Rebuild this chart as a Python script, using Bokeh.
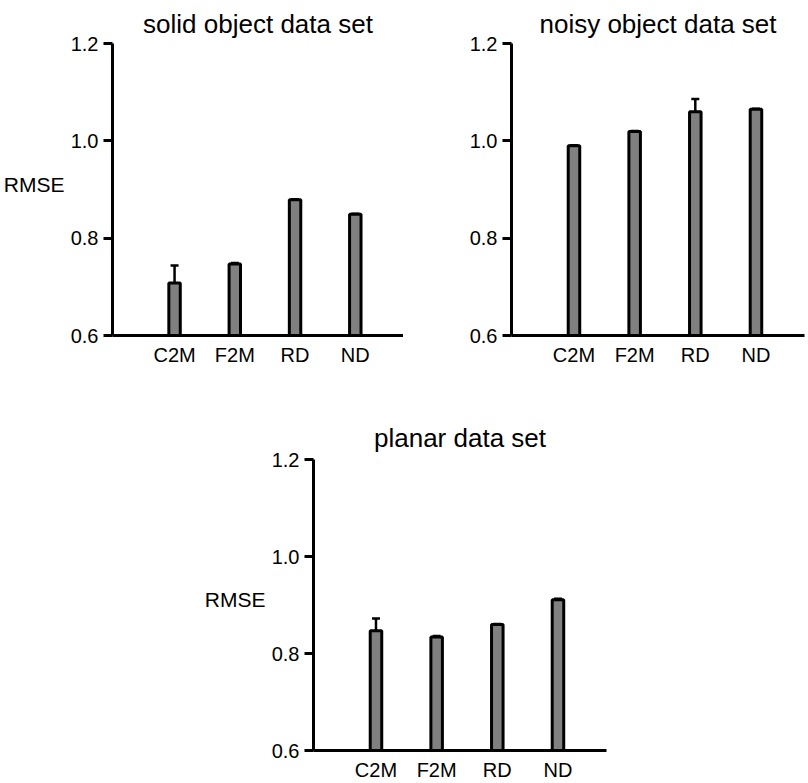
from bokeh.plotting import figure
from bokeh.layouts import column, row
from bokeh.models import (ColumnDataSource, Whisker, TeeHead, FixedTicker, LinearAxis,
                          CustomJSTickFormatter)
from bokeh.embed import file_html
from bokeh.resources import INLINE

categories = ["C2M", "F2M", "RD", "ND"]
y_ticks = [0.6, 0.8, 1.0, 1.2]

solid_values = [0.708, 0.747, 0.879, 0.849]
solid_errors = [0.036, 0.002, 0.001, 0.001]

noisy_values = [0.990, 1.019, 1.060, 1.065]
noisy_errors = [0.001, 0.001, 0.026, 0.001]

planar_values = [0.847, 0.834, 0.860, 0.911]
planar_errors = [0.025, 0.002, 0.001, 0.002]

FONT = "Liberation Sans"
RMSE_Y = 0.911


def make_panel(title, values, errors, width, height, bl, br, bt, bb,
               title_standoff, ylabel=None):
    xs = list(range(1, len(categories) + 1))
    src = ColumnDataSource(dict(
        x=xs, value=values,
        upper=[v + e for v, e in zip(values, errors)],
    ))
    p = figure(width=width, height=height, x_range=(-0.03, 4.8), y_range=(0.6, 1.2),
               output_backend="svg", toolbar_location=None,
               min_border_left=bl, min_border_right=br,
               min_border_top=bt, min_border_bottom=bb)
    p.title.text = title
    p.title.align = "center"
    p.title.text_font = FONT
    p.title.text_font_size = "26px"
    p.title.text_font_style = "normal"
    p.title.text_color = "black"
    p.title.standoff = title_standoff
    p.outline_line_color = None
    p.grid.grid_line_color = None
    p.background_fill_color = "white"
    p.border_fill_color = "white"

    p.vbar(x="x", top="value", bottom=0.6, width=0.19, source=src,
           fill_color="#808080", line_color="black", line_width=3)
    w = Whisker(source=src, base="x", upper="upper", lower="value",
                line_color="black", line_width=2.5,
                upper_head=TeeHead(size=8, line_color="black", line_width=2.5),
                lower_head=None)
    p.add_layout(w)

    ya = p.yaxis[0]
    ya.ticker = FixedTicker(ticks=y_ticks)
    ya.formatter = CustomJSTickFormatter(code="return tick.toFixed(1);")
    ya.axis_line_width = 3
    ya.major_tick_line_width = 3
    ya.major_tick_out = 9
    ya.major_tick_in = 0
    ya.minor_tick_line_color = None
    ya.major_label_text_font = FONT
    ya.major_label_text_font_size = "20px"
    ya.major_label_standoff = 5
    ya.major_label_text_color = "black"

    xa = p.xaxis[0]
    xa.ticker = FixedTicker(ticks=xs)
    xa.major_label_overrides = {x: c for x, c in zip(xs, categories)}
    xa.axis_line_width = 3
    xa.major_tick_line_color = None
    xa.minor_tick_line_color = None
    xa.major_label_text_font = FONT
    xa.major_label_text_font_size = "20px"
    xa.major_label_standoff = 2
    xa.major_label_text_color = "black"

    if ylabel:
        lab_axis = LinearAxis(
            ticker=FixedTicker(ticks=[RMSE_Y]),
            formatter=CustomJSTickFormatter(code="return '%s';" % ylabel),
            axis_line_color=None, major_tick_line_color=None,
            minor_tick_line_color=None, major_tick_out=0, major_tick_in=0,
            major_label_standoff=3,
            major_label_text_font=FONT, major_label_text_font_size="21px",
            major_label_text_color="black")
        p.add_layout(lab_axis, "left")
    return p


p1 = make_panel("solid object data set", solid_values, solid_errors,
                403, 380, 110, 0, 43, 45, 10, ylabel="RMSE")
p2 = make_panel("noisy object data set", noisy_values, noisy_errors,
                405, 380, 108, 4, 43, 45, 10)
p3 = make_panel("planar data set", planar_values, planar_errors,
                808, 403, 313, 202, 79, 32, 14, ylabel="RMSE")

layout = column(row(p1, p2, spacing=0), p3, spacing=0)

html = file_html(layout, INLINE)
html = html.replace("<head>", "<head><style>html,body{margin:0;padding:0;}</style>", 1)
open("out.html", "w").write(html)
